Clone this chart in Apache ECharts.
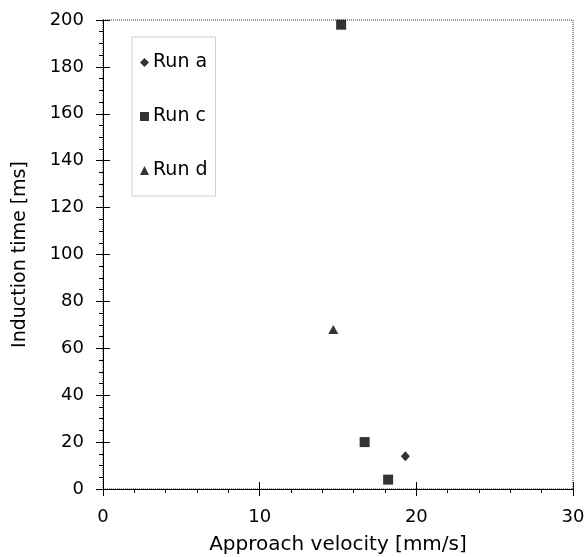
<!DOCTYPE html>
<html><head><meta charset="utf-8">
<script src="https://cdn.jsdelivr.net/npm/echarts@6/dist/echarts.min.js"></script>
<style>html,body{margin:0;padding:0;background:#fff}#c{width:586px;height:557px}</style>
</head><body><div id="c"></div>
<script>
const runA = [[19.3, 14]];
const runC = [[15.2, 198], [16.7, 20], [18.2, 4]];
const runD = [[14.7, 68]];
const seriesNames = ['Run a', 'Run c', 'Run d'];
const xName = 'Approach velocity [mm/s]';
const yName = 'Induction time [ms]';

const font = 'DejaVu Sans, Verdana, sans-serif';
const chart = echarts.init(document.getElementById('c'));
const axisCommon = {
  axisLine: {show: true, onZero: false, lineStyle: {color: '#000', width: 1}},
  splitLine: {show: false},
};
chart.setOption({
  animation: false,
  grid: {left: 103, right: 13, top: 20, bottom: 68, containLabel: false, outerBoundsMode: 'none',
         show: true, borderColor: '#333', borderWidth: 1, borderType: [1, 1]},
  legend: {
    orient: 'vertical', left: 132, top: 37,
    data: seriesNames,
    itemWidth: 9, itemHeight: 9, itemGap: 35,
    padding: [16, 8, 16, 8],
    borderColor: '#d0d0d0', borderWidth: 1,
    textStyle: {fontFamily: font, fontSize: 19, color: '#000', padding: [0, 0, 0, -1]}
  },
  xAxis: [{
    type: 'value', min: 0, max: 30, interval: 10,
    name: xName, nameLocation: 'middle', nameGap: 46,
    nameTextStyle: {fontFamily: font, fontSize: 20, color: '#000'},
    axisLabel: {fontFamily: font, fontSize: 18, color: '#000', margin: 19},
    axisTick: {show: true, length: 7, lineStyle: {color: '#000'}},
    minorTick: {show: true, splitNumber: 5, length: 4, lineStyle: {color: '#000'}},
    ...axisCommon
  }, {
    type: 'value', min: 0, max: 30, interval: 10, position: 'bottom',
    axisLine: {show: false}, axisLabel: {show: false}, splitLine: {show: false},
    axisTick: {show: true, inside: true, length: 7, lineStyle: {color: '#000'}}
  }],
  yAxis: [{
    type: 'value', min: 0, max: 200, interval: 20,
    name: yName, nameLocation: 'middle', nameGap: 73, nameRotate: 90,
    nameTextStyle: {fontFamily: font, fontSize: 19, color: '#000'},
    axisLabel: {fontFamily: font, fontSize: 18, color: '#000', margin: 19},
    axisTick: {show: true, length: 7, lineStyle: {color: '#000'}},
    minorTick: {show: true, splitNumber: 4, length: 4, lineStyle: {color: '#000'}},
    ...axisCommon
  }, {
    type: 'value', min: 0, max: 200, interval: 20, position: 'left',
    axisLine: {show: false}, axisLabel: {show: false}, splitLine: {show: false},
    axisTick: {show: true, inside: true, length: 7, lineStyle: {color: '#000'}}
  }],
  series: [
    {name: seriesNames[0], type: 'scatter', data: runA, symbol: 'diamond', symbolSize: [9, 10], itemStyle: {color: '#000'}},
    {name: seriesNames[1], type: 'scatter', data: runC, symbol: 'rect', symbolSize: 10, itemStyle: {color: '#000'}},
    {name: seriesNames[2], type: 'scatter', data: runD, symbol: 'triangle', symbolSize: [10, 9], itemStyle: {color: '#000'}}
  ]
});
</script></body></html>
